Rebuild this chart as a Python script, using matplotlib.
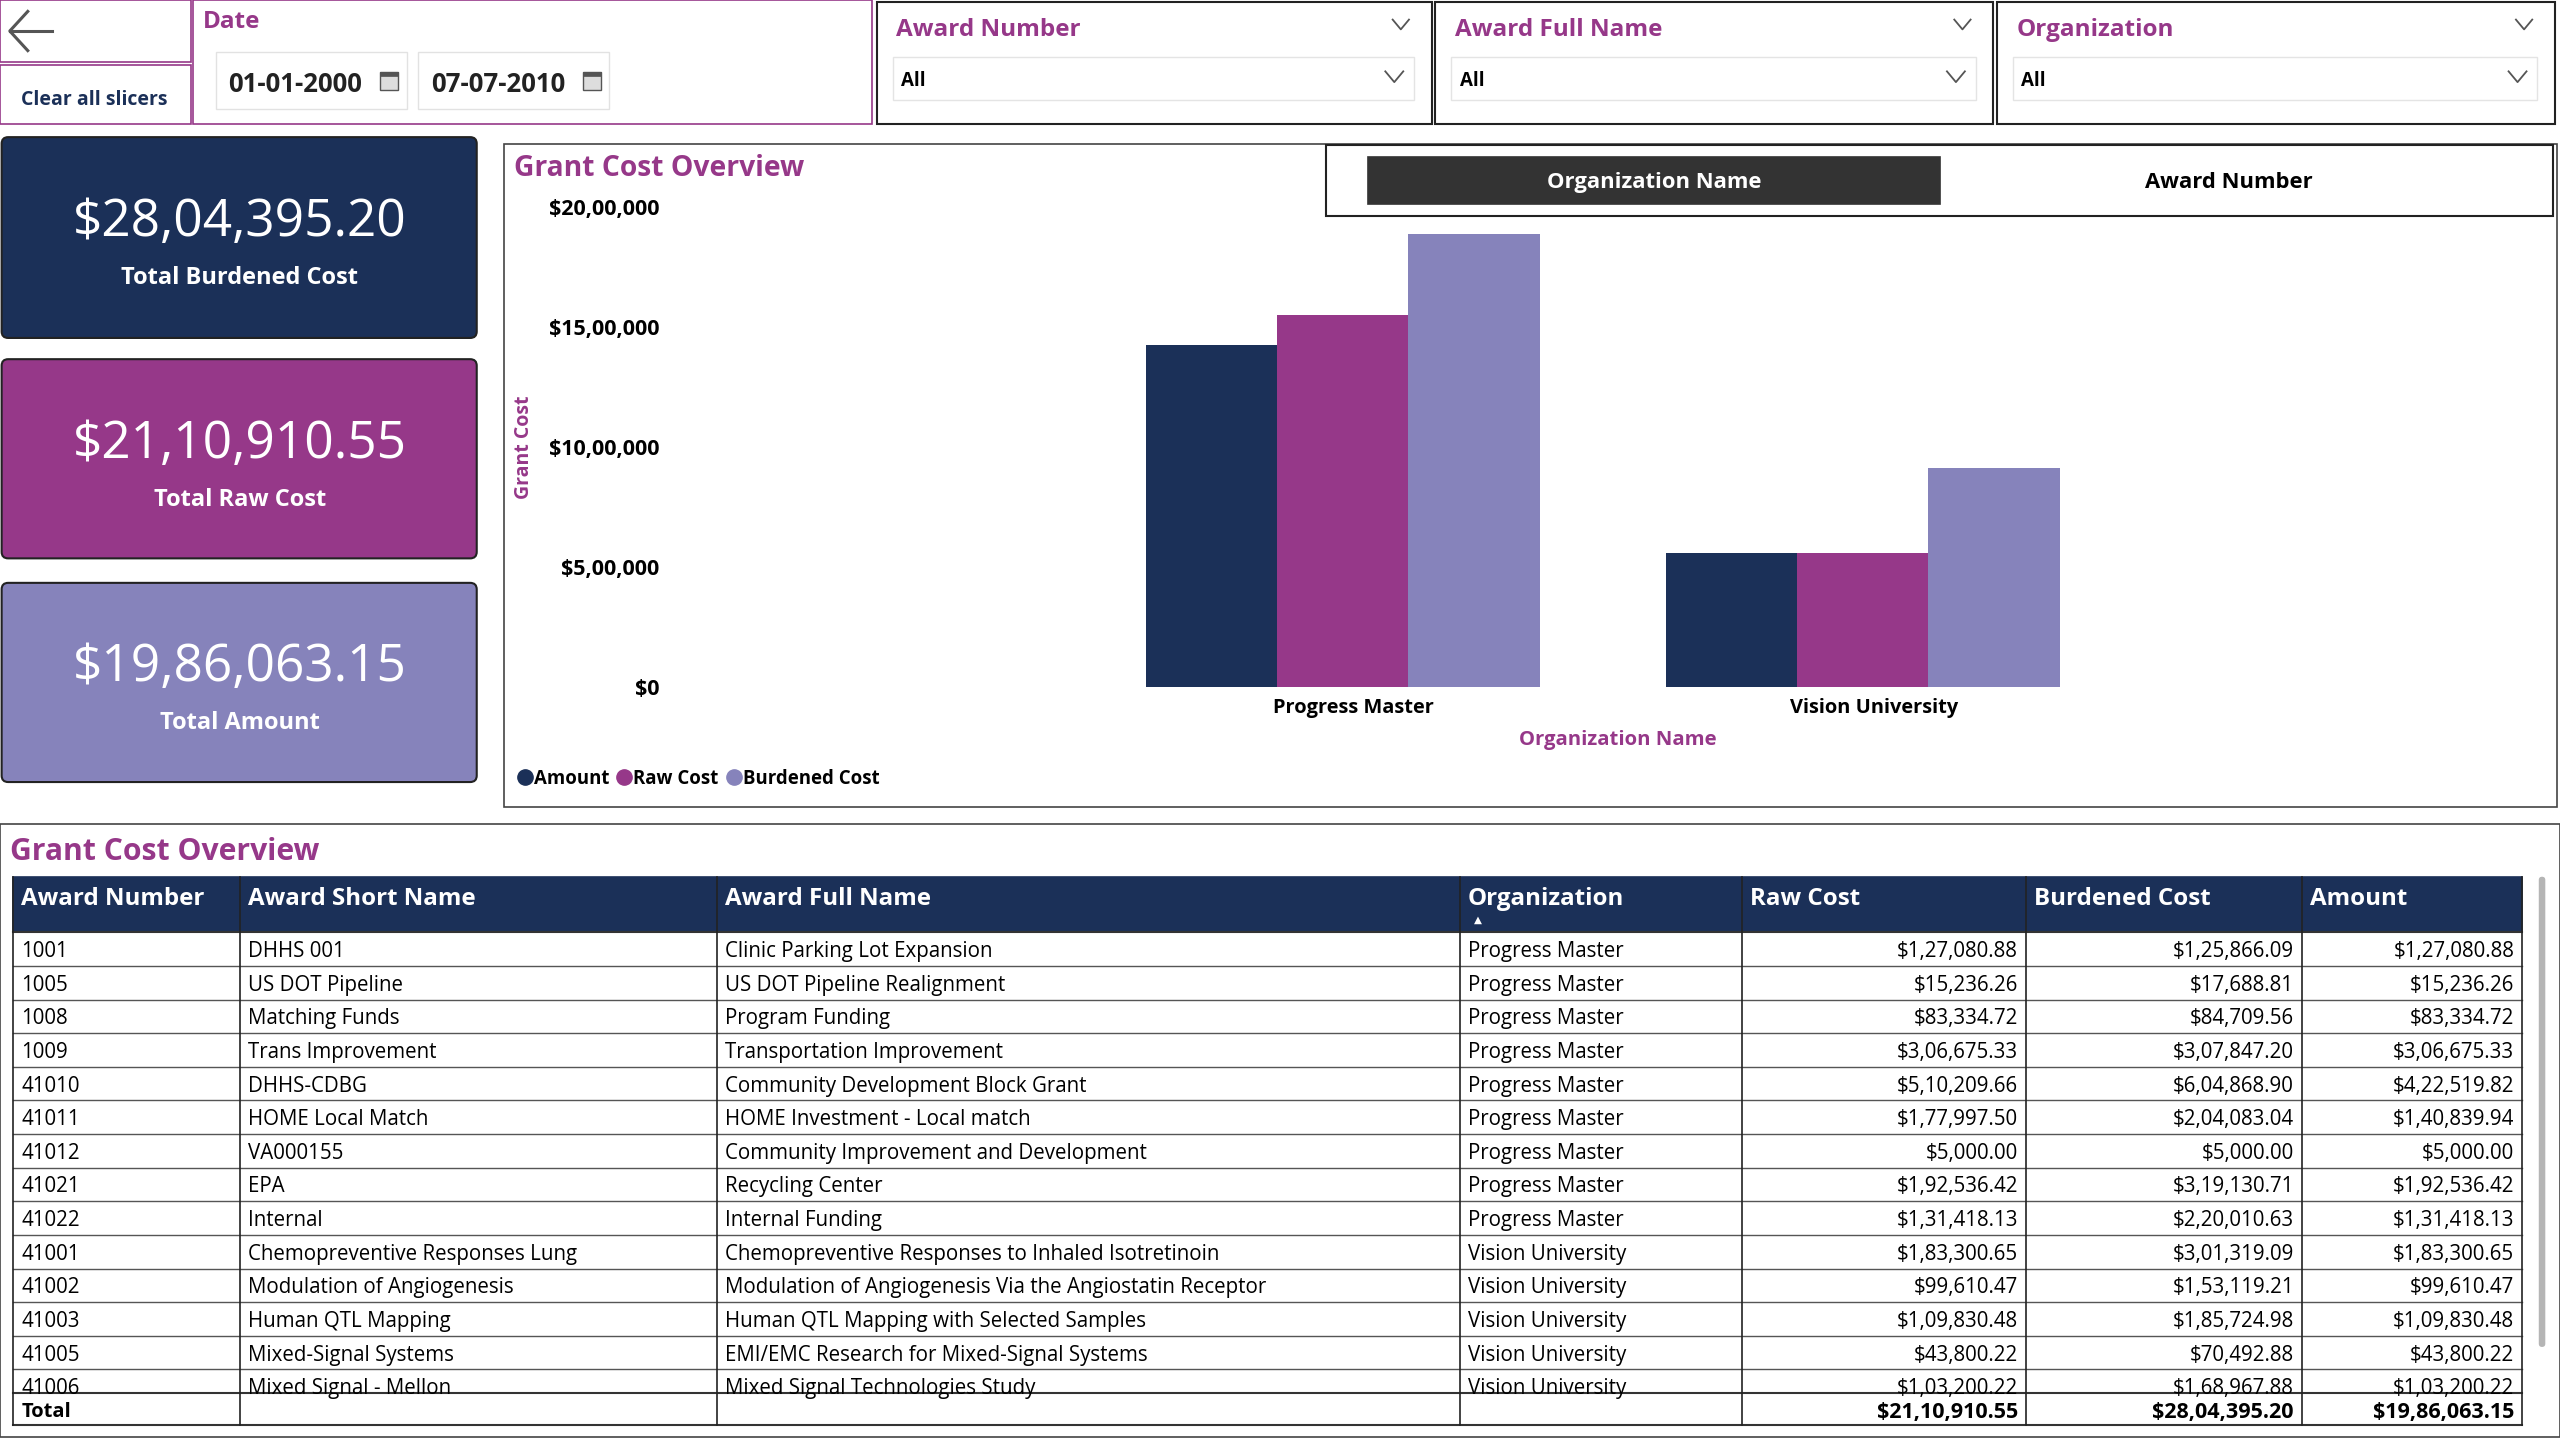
import matplotlib
matplotlib.use("Agg")
import matplotlib.pyplot as plt
from matplotlib.patches import Rectangle, FancyBboxPatch
from matplotlib.lines import Line2D
from matplotlib.ticker import FuncFormatter
from matplotlib.transforms import ScaledTranslation
import numpy as np

plt.rcParams['font.family'] = ['Open Sans', 'DejaVu Sans']

NAVY = '#1b3058'
MAGENTA = '#963889'
LAVENDER = '#8683bb'
DARK = '#333333'

# slicers
date_from = '01-01-2000'
date_to = '07-07-2010'
slicer_titles = ['Award Number', 'Award Full Name', 'Organization']
slicer_values = ['All', 'All', 'All']

# kpi cards
kpi_labels = ['Total Burdened Cost', 'Total Raw Cost', 'Total Amount']
kpi_values = [2804395.20, 2110910.55, 1986063.15]

# bar chart
chart_orgs = ['Progress Master', 'Vision University']
chart_amount = [1424641.50, 561421.65]
chart_raw = [1549488.90, 561421.65]
chart_burdened = [1889204.94, 915190.26]
series_names = ['Amount', 'Raw Cost', 'Burdened Cost']

# table
col_names = ['Award Number', 'Award Short Name', 'Award Full Name', 'Organization',
             'Raw Cost', 'Burdened Cost', 'Amount']
award_numbers = ['1001', '1005', '1008', '1009', '41010', '41011', '41012', '41021',
                 '41022', '41001', '41002', '41003', '41005', '41006']
short_names = ['DHHS 001', 'US DOT Pipeline', 'Matching Funds', 'Trans Improvement',
               'DHHS-CDBG', 'HOME Local Match', 'VA000155', 'EPA', 'Internal',
               'Chemopreventive Responses Lung', 'Modulation of Angiogenesis',
               'Human QTL Mapping', 'Mixed-Signal Systems', 'Mixed Signal - Mellon']
full_names = ['Clinic Parking Lot Expansion', 'US DOT Pipeline Realignment', 'Program Funding',
              'Transportation Improvement', 'Community Development Block Grant',
              'HOME Investment - Local match', 'Community Improvement and Development',
              'Recycling Center', 'Internal Funding',
              'Chemopreventive Responses to Inhaled Isotretinoin',
              'Modulation of Angiogenesis Via the Angiostatin Receptor',
              'Human QTL Mapping with Selected Samples',
              'EMI/EMC Research for Mixed-Signal Systems', 'Mixed Signal Technologies Study']
orgs = ['Progress Master'] * 9 + ['Vision University'] * 5
raw_cost = [127080.88, 15236.26, 83334.72, 306675.33, 510209.66, 177997.50, 5000.00,
            192536.42, 131418.13, 183300.65, 99610.47, 109830.48, 43800.22, 103200.22]
burdened_cost = [125866.09, 17688.81, 84709.56, 307847.20, 604868.90, 204083.04, 5000.00,
                 319130.71, 220010.63, 301319.09, 153119.21, 185724.98, 70492.88, 168967.88]
amount = [127080.88, 15236.26, 83334.72, 306675.33, 422519.82, 140839.94, 5000.00,
          192536.42, 131418.13, 183300.65, 99610.47, 109830.48, 43800.22, 103200.22]
totals = [2110910.55, 2804395.20, 1986063.15]


def inr(v, dec=2):
    s = f"{v:.{dec}f}"
    whole, frac = (s.split('.') + [''])[:2]
    if len(whole) > 3:
        head, tail = whole[:-3], whole[-3:]
        groups = []
        while len(head) > 2:
            groups.insert(0, head[-2:])
            head = head[:-2]
        if head:
            groups.insert(0, head)
        whole = ','.join(groups + [tail])
    return '$' + whole + ('.' + frac if frac else '')


W, H = 1568, 882  # layout units, output is 2560x1440
fig = plt.figure(figsize=(25.6, 14.4), dpi=100)
bg = fig.add_axes([0, 0, 1, 1])
bg.set_xlim(0, W)
bg.set_ylim(H, 0)
bg.axis('off')


def box(x0, y0, x1, y1, ec='black', fc='white', lw=1.2, z=1):
    r = Rectangle((x0, y0), x1 - x0, y1 - y0, ec=ec, fc=fc, lw=lw, zorder=z)
    bg.add_patch(r)
    return r


def chevron(x, y, s=5, color='#555555'):
    bg.plot([x - s, x, x + s], [y - s * 0.6, y + s * 0.6, y - s * 0.6], color=color, lw=1.3, zorder=5)


# ---- top bar ----
box(0, 0, 117, 38, ec=MAGENTA)
bg.plot([6, 32], [19, 19], color='#555555', lw=2.2, zorder=5)
bg.plot([17, 6, 17], [7, 19, 31], color='#555555', lw=2.2, zorder=5)
box(0, 40, 117, 76, ec=MAGENTA)
bg.text(58, 61, 'Clear all slicers', ha='center', va='center', fontsize=14,
        fontweight='bold', color=NAVY)

box(118, 0, 534, 76, ec=MAGENTA)
bg.text(124, 13.5, 'Date', ha='left', va='center', fontsize=17.5, fontweight='bold', color=MAGENTA)
for x0, d in [(132, date_from), (256, date_to)]:
    box(x0, 32, x0 + 117, 67, ec='#e2e2e2', lw=1)
    bg.text(x0 + 8, 51.5, d, ha='left', va='center', fontsize=18.5, fontweight='bold', color='#222222')
    cx = x0 + 101
    bg.add_patch(Rectangle((cx, 44), 11, 11, ec='#555555', fc='#dddddd', lw=1, zorder=5))
    bg.add_patch(Rectangle((cx, 44), 11, 2.5, ec='#555555', fc='#555555', lw=0.5, zorder=6))

slicer_x = [(537, 877), (879, 1221), (1223, 1565)]
for (x0, x1), t, v in zip(slicer_x, slicer_titles, slicer_values):
    box(x0, 1, x1, 76, ec='#222222', lw=1.5)
    bg.text(x0 + 12, 18.5, t, ha='left', va='center', fontsize=17.5, fontweight='bold', color=MAGENTA)
    chevron(x1 - 19, 15)
    box(x0 + 10, 35, x1 - 11, 61, ec='#e4e4e4', lw=1)
    bg.text(x0 + 15, 49.5, v, ha='left', va='center', fontsize=13.5, fontweight='bold', color='black')
    chevron(x1 - 23, 47, s=5.5)

# ---- KPI cards ----
kpi_colors = [NAVY, MAGENTA, LAVENDER]
kpi_y = [(84, 207), (220, 342), (357, 479)]
for (y0, y1), c, lab, val in zip(kpi_y, kpi_colors, kpi_labels, kpi_values):
    bg.add_patch(FancyBboxPatch((1, y0), 291, y1 - y0, boxstyle='round,pad=0,rounding_size=4',
                                fc=c, ec='#222222', lw=1.5, zorder=2))
    bg.text(147, y0 + 52, inr(val), ha='center', va='center', fontsize=37, color='white', zorder=3)
    bg.text(147, y0 + 86, lab, ha='center', va='center', fontsize=17, fontweight='bold',
            color='white', zorder=3)

# ---- chart panel ----
box(309, 88, 1566, 494, ec='#444444', lw=1.2)
bg.text(315, 103, 'Grant Cost Overview', ha='left', va='center', fontsize=20.3,
        fontweight='bold', color=MAGENTA)
box(812, 89, 1564, 132, ec='#222222', lw=1.5, z=2)
box(838, 96, 1188, 125, ec=DARK, fc=DARK, z=3)
bg.text(1013, 112, 'Organization Name', ha='center', va='center', fontsize=15.8,
        fontweight='bold', color='white', zorder=4)
bg.text(1365, 112, 'Award Number', ha='center', va='center', fontsize=15.8,
        fontweight='bold', color='black', zorder=4)

px_l, px_r, py_t, py_b = 410, 1560, 127, 421
c0, step = 822.5, 318.5
ax = fig.add_axes([px_l / W, 1 - py_b / H, (px_r - px_l) / W, (py_b - py_t) / H])
ax.set_facecolor('none')
x = np.arange(len(chart_orgs))
bw = 0.2523
ax.bar(x - bw, chart_amount, bw, color=NAVY, label=series_names[0])
ax.bar(x, chart_raw, bw, color=MAGENTA, label=series_names[1])
ax.bar(x + bw, chart_burdened, bw, color=LAVENDER, label=series_names[2])
ax.set_xlim((px_l - c0) / step, (px_r - c0) / step)
ax.set_ylim(0, 2000000)
ax.set_yticks([0, 500000, 1000000, 1500000, 2000000])
ax.yaxis.set_major_formatter(FuncFormatter(lambda v, p: inr(v, 0)))
ax.set_xticks(x)
ax.set_xticklabels(chart_orgs)
for s in ax.spines.values():
    s.set_visible(False)
ax.tick_params(axis='y', length=0, labelsize=15.5, pad=7)
ax.tick_params(axis='x', length=0, labelsize=14.4, pad=8)
shift = ScaledTranslation(0.11, 0, fig.dpi_scale_trans)
for t in ax.get_xticklabels():
    t.set_fontweight('bold')
    t.set_transform(t.get_transform() + shift)
for t in ax.get_yticklabels():
    t.set_fontweight('bold')
ax.set_xlabel('Organization Name', fontsize=14.6, fontweight='bold', color=MAGENTA)
ax.xaxis.set_label_coords((991 - px_l) / (px_r - px_l), -(447 - py_b) / (py_b - py_t))
ax.set_ylabel('Grant Cost', fontsize=14, fontweight='bold', color=MAGENTA)
ax.yaxis.set_label_coords((327 - px_l) / (px_r - px_l), 0.5)
handles = [Line2D([], [], marker='o', ls='none', color=c, markersize=11) for c in [NAVY, MAGENTA, LAVENDER]]
ax.legend(handles, series_names, loc='center left', ncol=3, frameon=False,
          bbox_to_anchor=((311 - px_l) / (px_r - px_l), (py_b - 477) / (py_b - py_t)),
          prop={'weight': 'bold', 'size': 13.4}, handletextpad=0.0, columnspacing=0.3,
          borderaxespad=0, handlelength=1.0)

# ---- table ----
box(0, 505, 1568, 880, ec='#444444', lw=1.2)
bg.text(6, 522, 'Grant Cost Overview', ha='left', va='center', fontsize=21.7,
        fontweight='bold', color=MAGENTA)
col_x = [8, 147, 439, 894, 1067, 1241, 1410, 1545]
head_t, head_b = 537, 571
row_h = 20.6
body_b = 853
tot_b = 873
box(col_x[0], head_t, col_x[-1], head_b, ec=NAVY, fc=NAVY, z=2)
for i, name in enumerate(col_names):
    bg.text(col_x[i] + 5, 550.5, name, ha='left', va='center', fontsize=17.4, fontweight='bold',
            color='white', zorder=4)
bg.text(905, 563.5, '\u25b2', ha='center', va='center', fontsize=7.5, color='white', zorder=4)

clip = Rectangle((col_x[0], head_b), col_x[-1] - col_x[0], body_b - head_b,
                 transform=bg.transData, fc='none', ec='none')
bg.add_patch(clip)
rows = list(zip(award_numbers, short_names, full_names, orgs,
                [inr(v) for v in raw_cost], [inr(v) for v in burdened_cost], [inr(v) for v in amount]))
for r, row in enumerate(rows):
    yc = head_b + row_h * (r + 0.5) + 1.5
    for i, val in enumerate(row):
        if i < 4:
            t = bg.text(col_x[i] + 5, yc, val, ha='left', va='center', fontsize=14.8, zorder=4)
        else:
            t = bg.text(col_x[i + 1] - 5, yc, val, ha='right', va='center', fontsize=14.8, zorder=4)
        t.set_clip_path(clip)
    yl = head_b + row_h * (r + 1)
    if yl < body_b:
        bg.plot([col_x[0], col_x[-1]], [yl, yl], color='#555555', lw=1.0, zorder=3)

bg.plot([col_x[0], col_x[-1]], [body_b, body_b], color='#333333', lw=1.5, zorder=3)
bg.plot([col_x[0], col_x[-1]], [tot_b, tot_b], color='#333333', lw=1.5, zorder=3)
bg.plot([col_x[0], col_x[-1]], [head_b, head_b], color='#333333', lw=1.5, zorder=3)
for cx in col_x:
    bg.plot([cx, cx], [head_t, tot_b], color='#222222', lw=1.2, zorder=3)
bg.text(col_x[0] + 5, 865, 'Total', ha='left', va='center', fontsize=14.5, fontweight='bold', zorder=4)
for i, v in enumerate(totals):
    bg.text(col_x[5 + i] - 5, 865, inr(v), ha='right', va='center', fontsize=15.5,
            fontweight='bold', zorder=4)

bg.add_patch(FancyBboxPatch((1555, 537), 4, 288, boxstyle='round,pad=0,rounding_size=2',
                            fc='#b5b5b5', ec='none', zorder=3))

fig.savefig('out.png', dpi=100)
